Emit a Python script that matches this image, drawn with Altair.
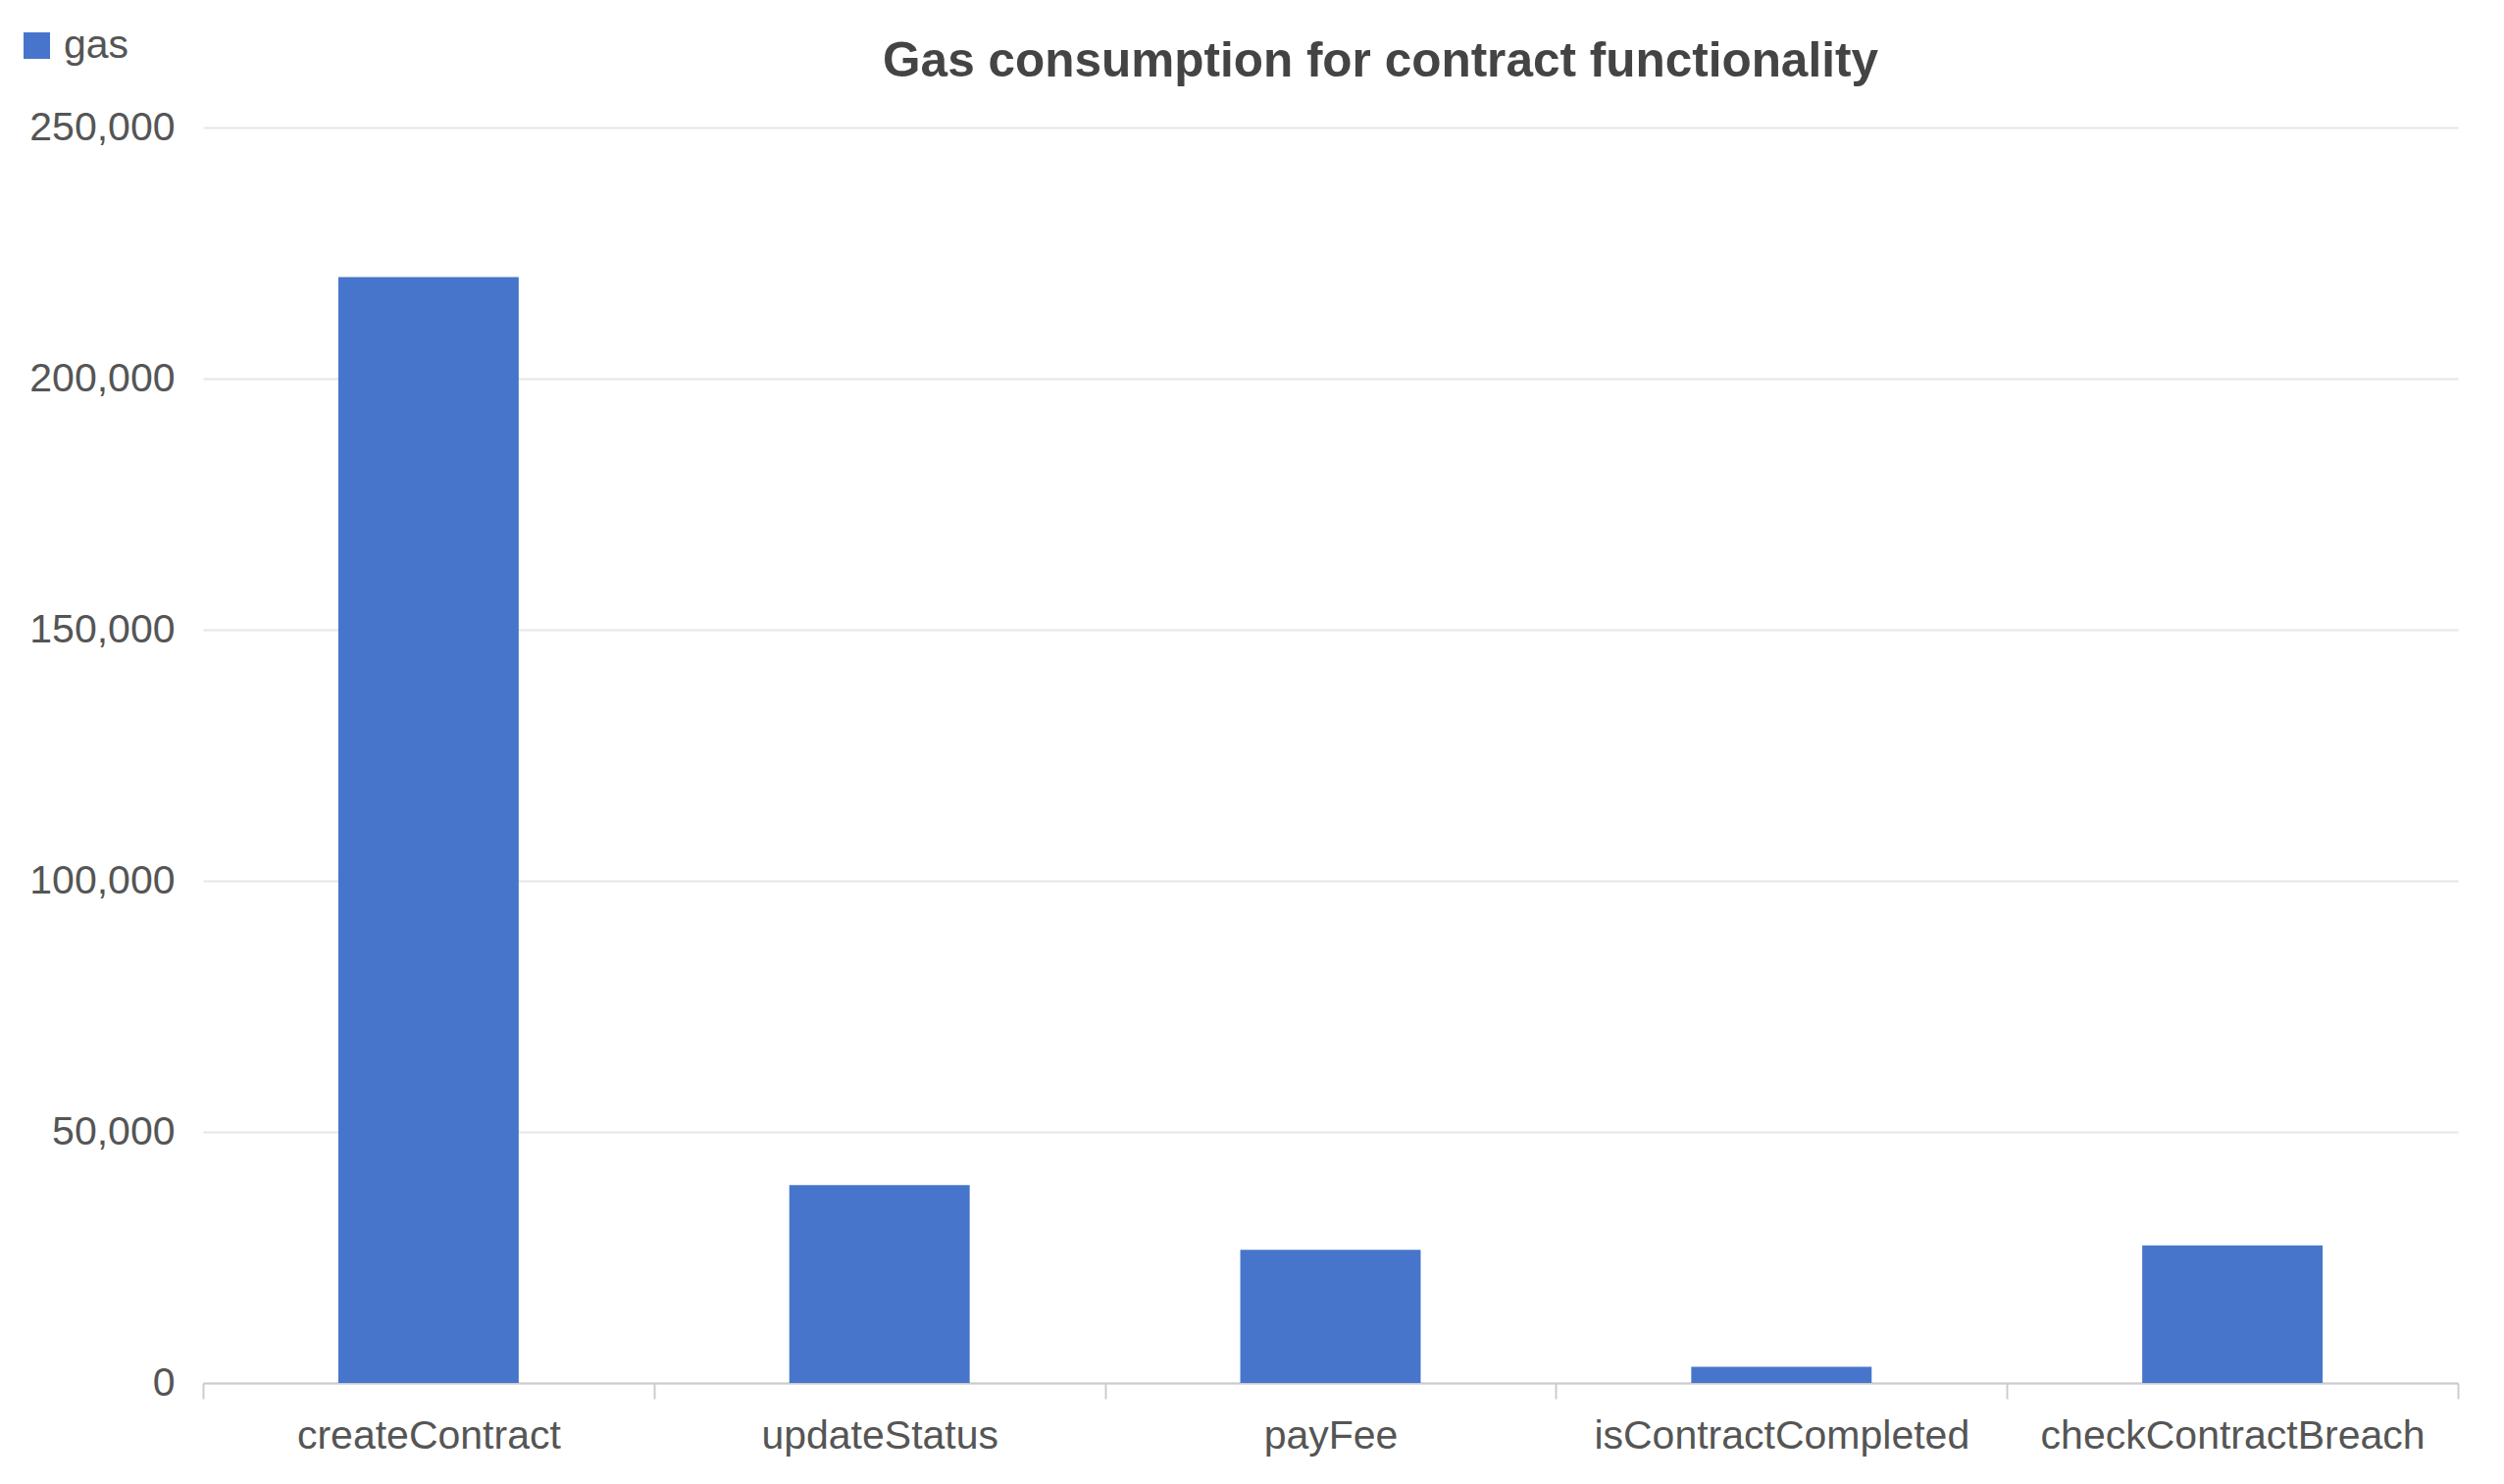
import altair as alt
import pandas as pd

functions = ["createContract", "updateStatus", "payFee", "isContractCompleted", "checkContractBreach"]
gas_values = [220200, 39400, 26500, 3200, 27400]
series_names = ["gas", "gas", "gas", "gas", "gas"]
y_ticks = [0, 50000, 100000, 150000, 200000, 250000]

df = pd.DataFrame({"function": functions, "gas": gas_values, "series": series_names})

FONT = "Liberation Sans"
LABEL_COLOR = "#555555"

chart = (
    alt.Chart(df)
    .mark_bar(width=alt.RelativeBandSize(0.4))
    .encode(
        x=alt.X(
            "function:N",
            sort=functions,
            scale=alt.Scale(paddingInner=0, paddingOuter=0),
            axis=alt.Axis(
                title=None,
                labelAngle=0,
                tickBand="extent",
                labelFontSize=41,
                labelFont=FONT,
                labelColor=LABEL_COLOR,
                labelLimit=0,
                labelPadding=18,
                tickSize=16,
                tickColor="#cccccc",
                tickWidth=2,
                domainColor="#cccccc",
                domainWidth=2,
                grid=False,
            ),
        ),
        y=alt.Y(
            "gas:Q",
            scale=alt.Scale(domain=[0, 250000], nice=False),
            axis=alt.Axis(
                title=None,
                values=y_ticks,
                format=",.0f",
                labelFontSize=41,
                labelFont=FONT,
                labelColor=LABEL_COLOR,
                labelLimit=0,
                labelPadding=29,
                ticks=False,
                tickSize=0,
                domain=False,
                grid=True,
                gridColor="#e6e6e6",
                gridWidth=2,
            ),
        ),
        color=alt.Color(
            "series:N",
            scale=alt.Scale(domain=["gas"], range=["#4775CB"]),
            legend=alt.Legend(
                title=None,
                orient="none",
                legendX=-190,
                legendY=-104,
                symbolType="square",
                symbolSize=729,
                symbolStrokeWidth=0,
                symbolOpacity=1,
                labelFontSize=41,
                labelFont=FONT,
                labelColor=LABEL_COLOR,
                labelOffset=7,
                padding=0,
            ),
        ),
    )
    .properties(
        width=2299,
        height=1280,
        title=alt.TitleParams(
            "Gas consumption for contract functionality",
            fontSize=49.5,
            font=FONT,
            fontWeight="bold",
            color="#444444",
            anchor="middle",
            baseline="alphabetic",
            dx=51,
            dy=101,
            offset=0,
        ),
        autosize=alt.AutoSizeParams(type="none"),
        padding={"left": 199, "top": 122, "right": 30, "bottom": 80},
    )
    .configure_view(stroke=None)
)

chart.save("out.html", embed_options={"renderer": "svg", "actions": False})
